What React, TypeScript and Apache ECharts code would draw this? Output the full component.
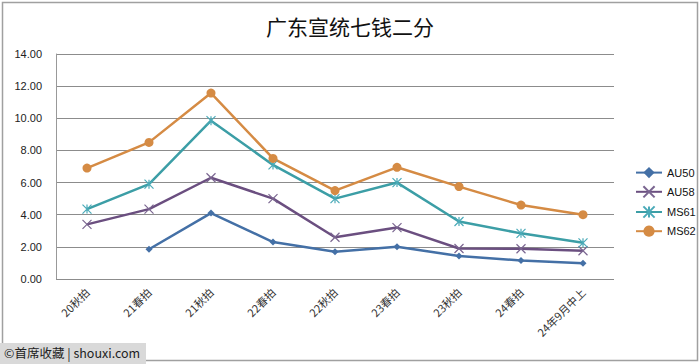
import React, { useEffect, useRef } from "react";
import * as echarts from "echarts";

const categories = ["20秋拍", "21春拍", "21秋拍", "22春拍", "22秋拍", "23春拍", "23秋拍", "24春拍", "24年9月中上"];
const au50 = [null, 1.85, 4.1, 2.3, 1.7, 2.0, 1.43, 1.15, 0.98];
const au58 = [3.4, 4.35, 6.3, 5.0, 2.6, 3.2, 1.9, 1.88, 1.76];
const ms61 = [4.35, 5.9, 9.85, 7.1, 5.0, 6.0, 3.58, 2.84, 2.25];
const ms62 = [6.9, 8.5, 11.57, 7.5, 5.5, 6.95, 5.75, 4.6, 4.0];
const seriesNames = ["AU50", "AU58", "MS61", "MS62"];
const yTicks = { min: 0, max: 14, interval: 2 };

export default function App() {
  const ref = useRef<HTMLDivElement>(null);
  useEffect(() => {
    if (!ref.current) return;
    const chart = echarts.init(ref.current, undefined, { renderer: "svg" });
    const mk = (name: string, data: any[], color: string, symbol: string, size: number) => ({
      name,
      type: "line",
      data,
      color,
      symbol,
      symbolSize: size,
      showAllSymbol: true,
      connectNulls: false,
      lineStyle: { width: 2.5, color },
      itemStyle: { color },
    });
    const crossPath = "path://M0,0L10,10M10,0L0,10";
    const starPath = "path://M0,0L10,10M10,0L0,10M5,0L5,10";
    chart.setOption({
      animation: false,
      backgroundColor: "#ffffff",
      title: {
        text: "广东宣统七钱二分",
        left: "center",
        top: 10,
        textStyle: { fontFamily: "Noto Sans CJK SC", fontSize: 21, fontWeight: "normal", color: "#111" },
      },
      grid: { left: 56, right: 86, top: 54, bottom: 85, containLabel: false },
      legend: {
        orient: "vertical",
        left: 630,
        top: 162,
        itemGap: 7,
        itemWidth: 26,
        itemHeight: 14,
        textStyle: { fontFamily: "Liberation Sans", fontSize: 11, color: "#111" },
        data: seriesNames,
      },
      xAxis: {
        type: "category",
        data: categories,
        boundaryGap: true,
        axisLine: { show: false },
        axisTick: { show: false },
        axisLabel: {
          rotate: 45,
          interval: 0,
          margin: 11,
          fontFamily: "Noto Sans CJK SC",
          fontSize: 11,
          color: "#333",
        },
      },
      yAxis: {
        type: "value",
        min: yTicks.min,
        max: yTicks.max,
        interval: yTicks.interval,
        axisLine: { show: true, lineStyle: { color: "#999" } },
        axisTick: { show: false },
        splitLine: { lineStyle: { color: "#8c8c8c", width: 1 } },
        axisLabel: {
          formatter: (v: number) => v.toFixed(2),
          fontFamily: "Liberation Sans",
          fontSize: 11,
          color: "#222",
          margin: 14,
        },
      },
      series: [
        mk("AU50", au50, "#4470a6", "diamond", 7),
        { ...mk("AU58", au58, "#6b4f80", crossPath, 9), itemStyle: { color: "transparent", borderColor: "#7a6590", borderWidth: 1.2 } },
        { ...mk("MS61", ms61, "#3c9ea6", starPath, 9), itemStyle: { color: "transparent", borderColor: "#4aaab8", borderWidth: 1.2 } },
        mk("MS62", ms62, "#d58b44", "circle", 9),
      ],
      graphic: [
        {
          type: "rect",
          shape: { x: 2.5, y: 2.5, width: 695, height: 358 },
          style: { fill: "none", stroke: "#a0a0a0", lineWidth: 1.5 },
          silent: true,
        },
        {
          type: "rect",
          shape: { x: 0, y: 343, width: 146, height: 21 },
          style: { fill: "#d9d9d9" },
        },
        {
          type: "text",
          x: 4,
          y: 346,
          style: { text: "©首席收藏 | shouxi.com", fontFamily: "Noto Sans CJK SC", fontSize: 12.5, fill: "#222" },
        },
      ],
    });
    return () => chart.dispose();
  }, []);
  return <div ref={ref} style={{ position: "fixed", left: 0, top: 0, width: 700, height: 364 }} />;
}
